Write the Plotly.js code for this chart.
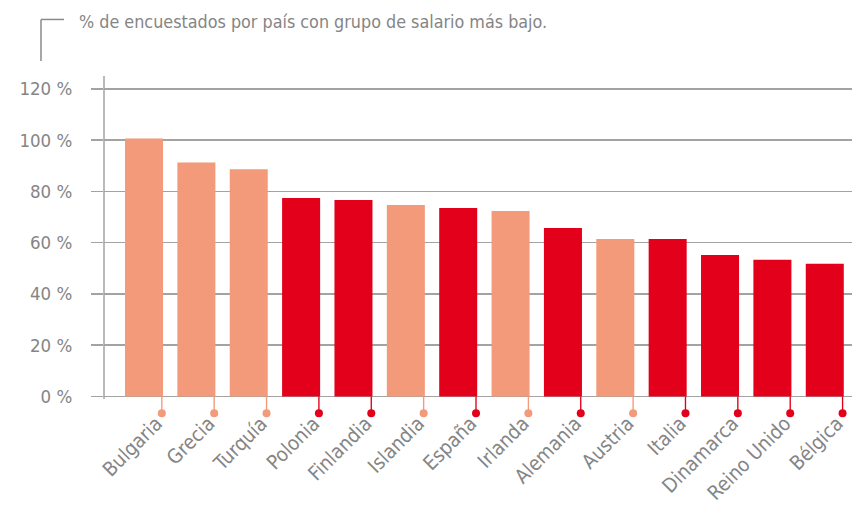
<!DOCTYPE html>
<html>
<head>
<meta charset="utf-8">
<script src="https://cdn.plot.ly/plotly-3.0.1.min.js"></script>
<style>html,body{margin:0;padding:0;background:#fff;}#chart{width:852px;height:505px;}</style>
</head>
<body>
<div id="chart"></div>
<script>
const countries = ["Bulgaria","Grecia","Turquía","Polonia","Finlandia","Islandia","España","Irlanda","Alemania","Austria","Italia","Dinamarca","Reino Unido","Bélgica"];
const values = [100.6, 91.3, 88.6, 77.4, 76.6, 74.7, 73.5, 72.3, 65.7, 61.4, 61.4, 55.2, 53.3, 51.8];
const group = ["light","light","light","dark","dark","light","dark","light","dark","light","dark","dark","dark","dark"];
const yTicks = [0, 20, 40, 60, 80, 100, 120];
const yTickText = ["0 %", "20 %", "40 %", "60 %", "80 %", "100 %", "120 %"];
const titleText = "% de encuestados por país con grupo de salario más bajo.";

const LIGHT = "#F29A7A", DARK = "#E2001A", GRID = "#a3a3a3", TXT = "#858585";
const FONT = "DejaVu Sans Condensed, Liberation Sans Narrow, Roboto, sans-serif";
const colorOf = g => g === "light" ? LIGHT : DARK;
const idx = countries.map((_, i) => i);

const RANGE = [-0.764, 13.52];
const SHIFT = 0.34;      // dots / stems at the bar's right edge
const LSHIFT = 0.24;     // label anchor
const DOT_Y = -6.5;
const YR = [-8, 125];

const traces = [{
  type: "bar", x: idx, y: values, xaxis: "x", yaxis: "y",
  marker: {color: group.map(colorOf), line: {width: 0}},
  hoverinfo: "skip"
}];
// stems as thin bars on the shifted axis
traces.push({
  type: "bar", x: idx, y: idx.map(() => DOT_Y), xaxis: "x2", yaxis: "y",
  width: 0.026, marker: {color: group.map(colorOf), line: {width: 0}},
  hoverinfo: "skip", showlegend: false
});
traces.push({
  type: "scatter", mode: "markers", xaxis: "x2", yaxis: "y",
  x: idx, y: idx.map(() => DOT_Y), cliponaxis: false,
  marker: {color: group.map(colorOf), size: 8},
  hoverinfo: "skip", showlegend: false
});
// invisible trace to carry the label axis
traces.push({type: "scatter", mode: "markers", xaxis: "x3", yaxis: "y", x: idx, y: idx.map(() => null), hoverinfo: "skip", showlegend: false});

const M = {l: 104, r: 0, t: 76.1, b: 87.5};
const layout = {
  width: 852, height: 505,
  margin: M,
  paper_bgcolor: "#fff", plot_bgcolor: "#fff",
  showlegend: false, bargap: 0.274, barmode: "overlay",
  font: {family: FONT, color: TXT, size: 18},
  xaxis: {range: RANGE, showticklabels: false, showgrid: false, zeroline: false, showline: false, ticks: "", fixedrange: true},
  xaxis2: {overlaying: "x", range: [RANGE[0] - SHIFT, RANGE[1] - SHIFT], showticklabels: false, showgrid: false, zeroline: false, showline: false, ticks: ""},
  xaxis3: {
    overlaying: "x", side: "bottom", range: [RANGE[0] - LSHIFT, RANGE[1] - LSHIFT],
    tickmode: "array", tickvals: idx, ticktext: countries, tickangle: -45,
    ticks: "", showgrid: false, zeroline: false, showline: false,
    ticklabelstandoff: -10,
    tickfont: {family: FONT, size: 20, color: TXT}
  },
  yaxis: {
    range: YR, tickmode: "array", tickvals: yTicks, ticktext: yTickText,
    showgrid: true, gridcolor: GRID, gridwidth: 1.5,
    zeroline: true, zerolinecolor: GRID, zerolinewidth: 1.5,
    showline: false,
    ticks: "outside", ticklen: 12, tickcolor: GRID, tickwidth: 1.5,
    ticklabelstandoff: 15,
    tickfont: {family: FONT, size: 18.5, color: TXT}
  }
};

const plotW = 852 - M.l - M.r, plotH = 505 - M.t - M.b;
const px = x => (x - M.l) / plotW;
const py = y => (505 - M.b - y) / plotH;
layout.annotations = [{
  xref: "paper", yref: "paper", x: px(77), y: py(22), xanchor: "left", yanchor: "middle",
  text: titleText, showarrow: false, font: {family: FONT, size: 17.8, color: TXT}
}];
layout.shapes = [
  {type: "line", xref: "paper", yref: "y", x0: 0, x1: 0, y0: -1, y1: YR[1], line: {color: GRID, width: 1.5}},
  {type: "line", xref: "paper", yref: "paper", x0: px(41), x1: px(64), y0: py(19.5), y1: py(19.5), line: {color: "#8a8a8a", width: 1.5}},
  {type: "line", xref: "paper", yref: "paper", x0: px(41), x1: px(41), y0: py(19.5), y1: py(61), line: {color: "#8a8a8a", width: 1.5}}
];

Plotly.newPlot("chart", traces, layout, {staticPlot: true, displayModeBar: false});
</script>
</body>
</html>
